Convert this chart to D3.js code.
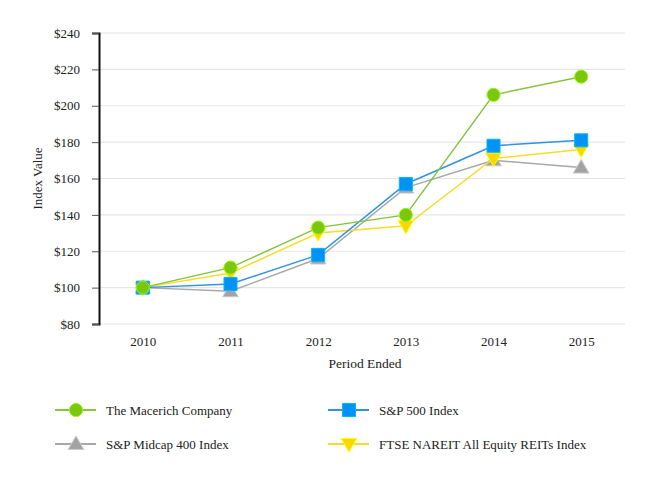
<!DOCTYPE html>
<html>
<head>
<meta charset="utf-8">
<script src="https://d3js.org/d3.v7.min.js"></script>
<style>
  body { margin: 0; background: #fff; }
  svg text { font-family: "Liberation Serif", "Times New Roman", serif; fill: #222; }
</style>
</head>
<body>
<div id="chart"></div>
<script>
const years = ["2010", "2011", "2012", "2013", "2014", "2015"];
const macerich = [100, 111, 133, 140, 206, 216];
const sp500 = [100, 102, 118, 157, 178, 181];
const midcap400 = [100, 98, 116, 155, 170, 166];
const nareit = [100, 108, 130, 134, 171, 176];
const yTicks = [80, 100, 120, 140, 160, 180, 200, 220, 240];

const series = [
  { name: "The Macerich Company", values: macerich, color: "#7ac70c", stroke: "#86c43a", symbol: d3.symbolCircle, size: 135 },
  { name: "S&P 500 Index", values: sp500, color: "#0093f5", stroke: "#2f93dd", symbol: d3.symbolSquare, size: 170 },
  { name: "S&P Midcap 400 Index", values: midcap400, color: "#a3a3a3", stroke: "#a8a8a8", symbol: d3.symbolTriangle, size: 105 },
  { name: "FTSE NAREIT All Equity REITs Index", values: nareit, color: "#f8d800", stroke: "#f8dc2a", symbol: d3.symbolTriangle, size: 105, flip: true }
];
// draw order: gray, yellow, blue, green on top
const drawOrder = [2, 3, 1, 0];

const width = 657, height = 480;
const margin = { left: 99, right: 32, top: 33, bottom: 156 };
const serif = "'Liberation Serif', 'Times New Roman', serif";

const svg = d3.select("#chart").append("svg")
  .attr("width", width)
  .attr("height", height);

const x = d3.scalePoint()
  .domain(years)
  .range([margin.left, width - margin.right])
  .padding(0.5);

const y = d3.scaleLinear()
  .domain([80, 240])
  .range([height - margin.bottom, margin.top]);

// gridlines
svg.append("g")
  .selectAll("line")
  .data(yTicks)
  .join("line")
  .attr("x1", margin.left)
  .attr("x2", width - margin.right)
  .attr("y1", d => y(d))
  .attr("y2", d => y(d))
  .attr("stroke", "#e6e6e6")
  .attr("stroke-width", 1.2);

// y axis
const yAxis = svg.append("g")
  .attr("transform", `translate(${margin.left},0)`)
  .call(d3.axisLeft(y).tickValues(yTicks).tickFormat(d => "$" + d).tickSize(7).tickPadding(12))
  .attr("font-family", serif)
  .attr("font-size", 13);
yAxis.select(".domain").attr("stroke", "#111").attr("stroke-width", 2);
yAxis.selectAll(".tick line").attr("stroke", "#555");

// x axis labels
const xAxis = svg.append("g")
  .attr("transform", `translate(0,${height - margin.bottom})`)
  .call(d3.axisBottom(x).tickSize(0).tickPadding(13))
  .attr("font-family", serif)
  .attr("font-size", 13);
xAxis.select(".domain").remove();

// axis titles
svg.append("text")
  .attr("transform", `translate(42,${y(160)}) rotate(-90)`)
  .attr("text-anchor", "middle")
  .style("font-size", "13px")
  .text("Index Value");

svg.append("text")
  .attr("x", 365)
  .attr("y", 368)
  .attr("text-anchor", "middle")
  .style("font-size", "13.5px")
  .text("Period Ended");

const line = d3.line()
  .x((d, i) => x(years[i]))
  .y(d => y(d));

drawOrder.forEach(idx => {
  const s = series[idx];
  const g = svg.append("g");
  g.append("path")
    .datum(s.values)
    .attr("d", line)
    .attr("fill", "none")
    .attr("stroke", s.stroke)
    .attr("stroke-width", 1.5);
  g.selectAll("path.mark")
    .data(s.values)
    .join("path")
    .attr("class", "mark")
    .attr("d", d3.symbol().type(s.symbol).size(s.size))
    .attr("transform", (d, i) => `translate(${x(years[i])},${y(d) + (s.symbol === d3.symbolTriangle ? (s.flip ? -1 : 1) : 0)}) rotate(${s.flip ? 180 : 0})`)
    .attr("fill", s.color)
    .attr("stroke", d3.color(s.color).brighter(0.6))
    .attr("stroke-width", 1);
});

// legend
const legendPos = [
  { x: 55, y: 410 },
  { x: 328, y: 410 },
  { x: 55, y: 444 },
  { x: 328, y: 444 }
];
series.forEach((s, i) => {
  const p = legendPos[i];
  const g = svg.append("g").attr("transform", `translate(${p.x},${p.y})`);
  g.append("line")
    .attr("x1", 0).attr("x2", 41)
    .attr("y1", 0).attr("y2", 0)
    .attr("stroke", s.stroke)
    .attr("stroke-width", 2);
  g.append("path")
    .attr("d", d3.symbol().type(s.symbol).size(s.size))
    .attr("transform", `translate(21,${s.symbol === d3.symbolTriangle ? (s.flip ? -1 : 1) : 0}) rotate(${s.flip ? 180 : 0})`)
    .attr("fill", s.color)
    .attr("stroke", d3.color(s.color).brighter(0.6))
    .attr("stroke-width", 1);
  g.append("text")
    .attr("x", 51)
    .attr("y", 0)
    .attr("dy", "0.35em")
    .style("font-size", "13px")
    .text(s.name);
});
</script>
</body>
</html>
